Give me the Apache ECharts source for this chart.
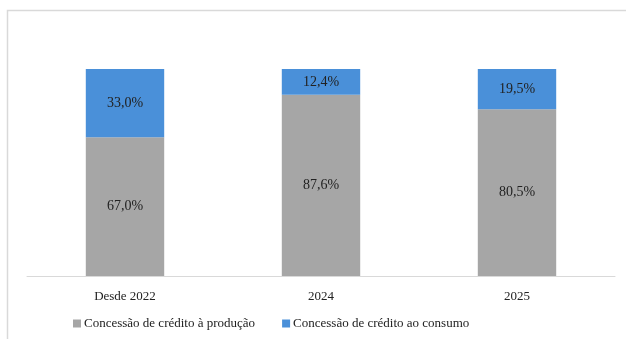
<!DOCTYPE html>
<html>
<head>
<meta charset="utf-8">
<script src="https://cdn.jsdelivr.net/npm/echarts@6/dist/echarts.min.js"></script>
<style>
  html, body { margin: 0; padding: 0; background: #fff; }
  #chart { width: 626px; height: 339px; }
</style>
</head>
<body>
<div id="chart"></div>
<script>
// Share of credit granted, by purpose (%)
const categories = ['Desde 2022', '2024', '2025'];
const producao = [67.0, 87.6, 80.5];
const consumo = [33.0, 12.4, 19.5];
const seriesNames = ['Concessão de crédito à produção', 'Concessão de crédito ao consumo'];

const serif = '"Liberation Serif", "Times New Roman", serif';
const fmt = v => v.toFixed(1).replace('.', ',') + '%';

const chart = echarts.init(document.getElementById('chart'), null, { renderer: 'canvas' });

const labelStyle = {
  show: true,
  position: 'inside',
  fontFamily: serif,
  fontSize: 14,
  color: '#222',
  padding: [3, 0, 0, 0],
  formatter: p => fmt(p.value)
};

chart.setOption({
  animation: false,
  backgroundColor: '#fff',
  grid: { left: 27, right: 11, top: 69, bottom: 63 },
  xAxis: {
    type: 'category',
    data: categories,
    axisLine: { lineStyle: { color: '#d9d9d9', width: 1 } },
    axisTick: { show: false },
    axisLabel: { fontFamily: serif, fontSize: 13, color: '#222', margin: 14 }
  },
  yAxis: {
    type: 'value',
    min: 0,
    max: 100,
    show: false,
    splitLine: { show: false }
  },
  legend: {
    left: 68,
    bottom: 4,
    itemWidth: 8,
    itemHeight: 8,
    itemGap: 27,
    icon: 'rect',
    textStyle: { fontFamily: serif, fontSize: 13, color: '#222', padding: [0, 0, 0, -2] },
    data: seriesNames
  },
  graphic: [
    {
      type: 'polyline',
      silent: true,
      shape: { points: [[7.5, 339], [7.5, 10.5], [626, 10.5]] },
      style: { stroke: '#d9d9d9', lineWidth: 1.5, fill: null }
    }
  ],
  series: [
    {
      name: seriesNames[0],
      type: 'bar',
      stack: 'total',
      data: producao,
      barWidth: '40%',
      itemStyle: { color: '#a6a6a6' },
      label: labelStyle
    },
    {
      name: seriesNames[1],
      type: 'bar',
      stack: 'total',
      data: consumo,
      barWidth: '40%',
      itemStyle: { color: '#4a90d9' },
      label: labelStyle
    }
  ]
});
</script>
</body>
</html>
